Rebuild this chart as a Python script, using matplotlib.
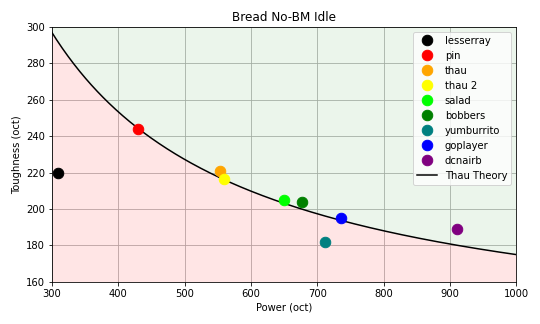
import numpy as np
import matplotlib
matplotlib.use("Agg")
import matplotlib.pyplot as plt

# Player measurements
players = ["lesserray", "pin", "thau", "thau 2", "salad", "bobbers",
           "yumburrito", "goplayer", "dcnairb"]
power = [309, 430, 553, 559, 650, 677, 712, 736, 911]
toughness = [220, 244, 221, 216.6, 205, 204, 182, 195, 189]
colors = ["black", "red", "orange", "yellow", "lime", "green",
          "teal", "blue", "purple"]

# Thau theory: toughness = A + B / power
THEORY_A = 122.7
THEORY_B = 52286.0

x_min, x_max = 300, 1000
y_min, y_max = 160, 300

fig = plt.figure(figsize=(7.5, 4.5), dpi=72)
ax = fig.add_axes([0.096, 0.130, 0.860, 0.787])

xs = np.linspace(x_min, x_max, 400)
theory = THEORY_A + THEORY_B / xs

ax.fill_between(xs, theory, y_max, color="green", alpha=0.08, linewidth=0)
ax.fill_between(xs, y_min, theory, color="red", alpha=0.1, linewidth=0)

for name, p, t, c in zip(players, power, toughness, colors):
    ax.plot(p, t, "o", color=c, markersize=10.5, label=name, zorder=3)

ax.plot(xs, theory, color="black", linewidth=1.5, label="Thau Theory", zorder=2)

ax.set_xlim(x_min, x_max)
ax.set_ylim(y_min, y_max)
ax.grid(True, color="#b0b0b0", linewidth=0.8)
ax.set_axisbelow(True)
ax.set_xlabel("Power (oct)")
ax.set_ylabel("Toughness (oct)")
ax.set_title("Bread No-BM Idle", fontsize=12)
ax.legend(loc="upper right")

fig.savefig("out.png", dpi=72)
